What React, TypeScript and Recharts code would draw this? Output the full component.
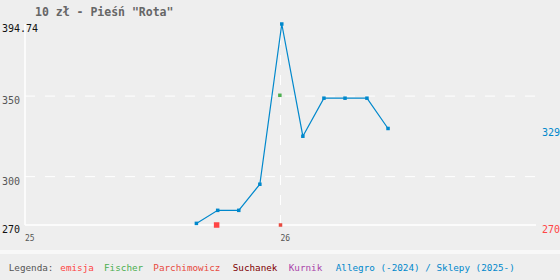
import React from 'react';
import { ComposedChart, Line, Scatter, XAxis, YAxis, ReferenceLine } from 'recharts';

const title = '10 zł - Pieśń "Rota"';
const yearTicks = [0, 12];
const yearLabels = ['25', '26'];
const shopMonths = [8.05, 9.05, 10.04, 11.03, 12.06, 13.05, 14.04, 15.03, 16.06, 17.05];
const shopValues = [271, 279.1, 279.1, 295.3, 394.74, 325.1, 348.7, 348.7, 348.7, 329.9];
const emisjaMonths = [9.0];
const emisjaValues = [270];
const parchMonths = [12.0];
const parchValues = [270];
const fischerMonths = [11.97];
const fischerValues = [350.5];
const yDomain = [270, 394.74];
const yTicksLeft = [270, 300, 350, 394.74];
const gridValues = [300, 350];
const legendLabel = 'Legenda:';
const legendNames = ['emisja', 'Fischer', 'Parchimowicz', 'Suchanek', 'Kurnik', 'Allegro (-2024) / Sklepy (2025-)'];
const legendColors = ['#ff4545', '#4caf50', '#e84a3f', '#800000', '#aa44aa', '#0088cc'];
const legendX = [60.3, 104, 153.3, 232.7, 288.7, 335.7];

const FONT = '"DejaVu Sans Mono", monospace';
const BLUE = '#0088cc';

const toPoints = (xs: number[], ys: number[]) => xs.map((x, i) => ({ x, y: ys[i] }));
const shopData = toPoints(shopMonths, shopValues);
const emisjaData = toPoints(emisjaMonths, emisjaValues);
const parchData = toPoints(parchMonths, parchValues);
const fischerData = toPoints(fischerMonths, fischerValues);
const lastShop = shopValues[shopValues.length - 1];
const rightTicks = [emisjaValues[0], lastShop];

const square = (size: number, color: string) => (props: any) => {
  const { cx, cy } = props;
  if (cx == null || cy == null) return <g />;
  return <rect x={cx - size / 2} y={cy - size / 2} width={size} height={size} fill={color} />;
};

const LeftTick = (props: any) => {
  const v = props.payload.value;
  const strong = v === yTicksLeft[0] || v === yTicksLeft[yTicksLeft.length - 1];
  return (
    <text x={props.x - 15} y={props.y + 8} fontFamily={FONT} fontSize={10} fill={strong ? '#111' : '#555'} textAnchor="start">
      {String(v)}
    </text>
  );
};

const RightTick = (props: any) => {
  const v = props.payload.value;
  const color = v === lastShop ? BLUE : legendColors[0];
  return (
    <text x={props.x - 2} y={props.y + 8} fontFamily={FONT} fontSize={10} fill={color} textAnchor="start">
      {String(Math.floor(v))}
    </text>
  );
};

const XTick = (props: any) => {
  const idx = yearTicks.indexOf(props.payload.value);
  return (
    <text x={props.x} y={241} fontFamily={FONT} fontSize={8} fill="#555" textAnchor="start">
      {yearLabels[idx]}
    </text>
  );
};

export default function App() {
  return (
    <div style={{ position: 'fixed', left: 0, top: 0, width: 560, height: 280, background: '#eeeeee', overflow: 'hidden' }}>
      <ComposedChart width={560} height={250} margin={{ top: 24, right: 0, bottom: 5, left: 0 }}>
        <XAxis
          type="number"
          dataKey="x"
          domain={[0, 24]}
          ticks={yearTicks}
          interval={0}
          axisLine={false}
          tickLine={false}
          height={20}
          tick={<XTick />}
        />
        <YAxis
          yAxisId="l"
          dataKey="y"
          type="number"
          domain={yDomain}
          ticks={yTicksLeft}
          interval={0}
          width={25}
          axisLine={false}
          tickLine={false}
          tick={<LeftTick />}
        />
        <YAxis
          yAxisId="r"
          orientation="right"
          dataKey="y"
          type="number"
          domain={yDomain}
          ticks={rightTicks}
          interval={0}
          width={24}
          axisLine={false}
          tickLine={false}
          tick={<RightTick />}
          allowDataOverflow
        />
        {gridValues.map((g) => (
          <ReferenceLine key={g} yAxisId="l" y={g} stroke="#ffffff" strokeWidth={1} strokeDasharray="10 10" />
        ))}
        <ReferenceLine yAxisId="l" x={yearTicks[1]} stroke="#ffffff" strokeWidth={1} strokeDasharray="10 10" />
        <ReferenceLine yAxisId="l" y={yDomain[0]} stroke="#ffffff" strokeWidth={1.5} />
        <ReferenceLine yAxisId="l" x={yearTicks[0]} stroke="#ffffff" strokeWidth={1.5} />
        <Line
          yAxisId="l"
          data={shopData}
          dataKey="y"
          stroke={BLUE}
          strokeWidth={1.2}
          isAnimationActive={false}
          dot={(p: any) => <rect key={p.index} x={p.cx - 1.75} y={p.cy - 1.75} width={3.5} height={3.5} fill={BLUE} />}
          activeDot={false}
        />
        <Scatter yAxisId="l" data={fischerData} dataKey="y" shape={square(3.5, legendColors[1])} isAnimationActive={false} />
        <Scatter yAxisId="l" data={parchData} dataKey="y" shape={square(3.5, legendColors[2])} isAnimationActive={false} />
        <Scatter yAxisId="l" data={emisjaData} dataKey="y" shape={square(5.5, legendColors[0])} isAnimationActive={false} />
      </ComposedChart>
      <svg width={560} height={280} style={{ position: 'absolute', left: 0, top: 0, pointerEvents: 'none' }}>
        <text x={35} y={16} fontFamily={FONT} fontSize={11.5} fontWeight="bold" fill="#666">
          {title}
        </text>
        <rect x={0} y={250} width={560} height={4} fill="#f8f8f8" />
        <text x={8.7} y={270.5} fontFamily={FONT} fontSize={9.3} fill="#555">
          {legendLabel}
        </text>
        {legendNames.map((n, i) => (
          <text key={n} x={legendX[i]} y={270.5} fontFamily={FONT} fontSize={9.3} fill={legendColors[i]}>
            {n}
          </text>
        ))}
      </svg>
    </div>
  );
}
